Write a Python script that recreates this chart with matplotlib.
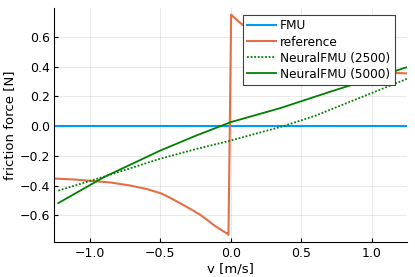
import matplotlib
matplotlib.use("Agg")
import matplotlib.pyplot as plt

# data
fmu_v = [-1.25, 1.25]
fmu_f = [0.0, 0.0]

ref_v = [-1.25, -1.1, -1.0, -0.85, -0.714, -0.6, -0.5, -0.43, -0.36, -0.29, -0.218, -0.17,
         -0.123, -0.075, -0.028, -0.017,
         0.002, 0.013, 0.06, 0.11, 0.16, 0.22, 0.29, 0.36, 0.43, 0.5, 0.6, 0.72, 0.85,
         1.0, 1.1, 1.25]
ref_f = [-0.353, -0.36, -0.368, -0.38, -0.40, -0.423, -0.451, -0.483, -0.519, -0.556, -0.597, -0.63,
         -0.665, -0.695, -0.722, -0.732,
         0.751, 0.74, 0.70, 0.662, 0.626, 0.586, 0.55, 0.515, 0.48, 0.452, 0.423, 0.40, 0.38,
         0.368, 0.36, 0.355]

nf2500_v = [-1.225, -0.9, -0.5, -0.25, 0.0, 0.2, 0.373, 0.6, 0.94, 1.25]
nf2500_f = [-0.434, -0.34, -0.219, -0.155, -0.097, -0.045, 0.0, 0.07, 0.20, 0.318]

nf5000_v = [-1.225, -0.9, -0.5, -0.25, 0.0, 0.35, 0.7, 1.0, 1.25]
nf5000_f = [-0.518, -0.343, -0.164, -0.065, 0.027, 0.121, 0.23, 0.32, 0.397]

xticks = [-1.0, -0.5, 0.0, 0.5, 1.0]
yticks = [-0.6, -0.4, -0.2, 0.0, 0.2, 0.4, 0.6]

plt.rcParams['font.family'] = ['DejaVu Sans']
fig = plt.figure(figsize=(4.15, 2.77), dpi=100)
ax = fig.add_axes([0.1313, 0.1253, 0.8487, 0.8458])

ax.plot(fmu_v, fmu_f, color='#009AFA', lw=1.5, label='FMU')
ax.plot(ref_v, ref_f, color='#E36F47', lw=1.5, label='reference')
ax.plot(nf2500_v, nf2500_f, color='#008000', lw=1.3, ls=(0, (1, 1)), label='NeuralFMU (2500)')
ax.plot(nf5000_v, nf5000_f, color='#008000', lw=1.3, label='NeuralFMU (5000)')

ax.set_xlim(-1.252, 1.248)
ax.set_ylim(-0.782, 0.795)
ax.set_xticks(xticks)
ax.set_yticks(yticks)
ax.grid(True, color='black', alpha=0.1, lw=0.6)
for s in ['top', 'right']:
    ax.spines[s].set_visible(False)
ax.tick_params(direction='in', length=3, labelsize=9, colors='black')
ax.set_xlabel('v [m/s]', fontsize=9.5, labelpad=2)
ax.set_ylabel('friction force [N]', fontsize=9.5, labelpad=2)

leg = ax.legend(loc='upper right', bbox_to_anchor=(0.966, 0.969), borderaxespad=0,
                fontsize=8.7, fancybox=False, framealpha=1, edgecolor='#404040',
                handlelength=2.4, handletextpad=0.35, labelspacing=0.25, borderpad=0.35)
leg.get_frame().set_linewidth(0.8)

fig.savefig('out.png', dpi=100)
